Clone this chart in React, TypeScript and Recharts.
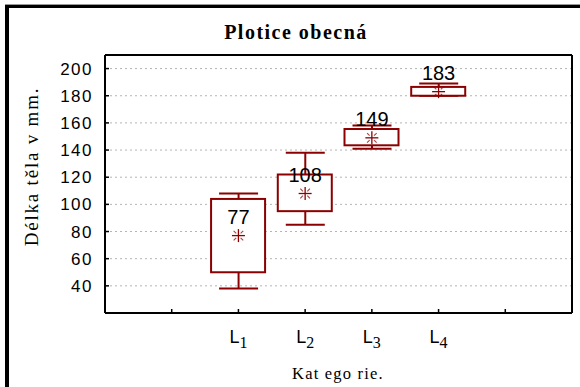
import React from 'react';
import { ComposedChart, XAxis, YAxis, CartesianGrid, Bar, Scatter } from 'recharts';

// Length categories (drawn as L with a subscript index)
const categoryPrefix = 'L';
const categoryIndex = ['1', '2', '3', '4'];

// Box-plot statistics of body length (mm) per category
const whiskerLow = [38, 85, 141, 180];
const boxLow = [50, 95, 143.5, 180];
const boxHigh = [104, 122, 155.5, 186.5];
const whiskerHigh = [108, 138, 158, 189];
const means = [77, 108, 149, 183];

// Axis ticks
const yTicks = [40, 60, 80, 100, 120, 140, 160, 180, 200];
const xSlots = [1, 2, 3, 4, 5, 6];

const rows = categoryIndex.map((sub, i) => ({
  slot: i + 2,
  sub,
  lo: whiskerLow[i],
  q1: boxLow[i],
  q3: boxHigh[i],
  hi: whiskerHigh[i],
  mean: means[i],
}));

const RED = '#8b0000';
const SANS = "'Liberation Sans', Arial, sans-serif";
const SERIF = "'Liberation Serif', 'Times New Roman', serif";

const CategoryTick = (props: any) => {
  const { x, y, payload } = props;
  const row = rows.find((r) => r.slot === payload.value);
  if (!row) return null;
  return (
    <text x={x} y={y} textAnchor="middle" fill="#000">
      <tspan fontFamily={SANS} fontSize={18}>{categoryPrefix}</tspan>
      <tspan fontFamily={SERIF} fontSize={16} dy={4.5}>{row.sub}</tspan>
    </text>
  );
};

const WhiskerShape = (props: any) => {
  const { x, y, width, height } = props;
  const top = Math.min(y, y + height);
  const bottom = Math.max(y, y + height);
  const cx = x + width / 2;
  return (
    <g stroke={RED} strokeWidth={2} fill="none">
      <line x1={cx} x2={cx} y1={top} y2={bottom} />
      <line x1={x} x2={x + width} y1={top} y2={top} />
      <line x1={x} x2={x + width} y1={bottom} y2={bottom} />
    </g>
  );
};

const BoxShape = (props: any) => {
  const { x, y, width, height } = props;
  const top = Math.min(y, y + height);
  const h = Math.abs(height);
  return <rect x={x} y={top} width={width} height={h} fill="#fff" stroke={RED} strokeWidth={2} />;
};

const MeanShape = (props: any) => {
  const { cx, cy, payload } = props;
  const r = 6.5;
  const d = 4.8;
  const d0 = 2.2;
  return (
    <g>
      <g stroke={RED} strokeWidth={1.3}>
        <line x1={cx - r} x2={cx + r} y1={cy} y2={cy} />
        <line x1={cx} x2={cx} y1={cy - r} y2={cy + r} />
      </g>
      <g stroke={RED} strokeWidth={1.1} strokeOpacity={0.75}>
        <line x1={cx - d} y1={cy - d} x2={cx - d0} y2={cy - d0} />
        <line x1={cx + d} y1={cy - d} x2={cx + d0} y2={cy - d0} />
        <line x1={cx - d} y1={cy + d} x2={cx - d0} y2={cy + d0} />
        <line x1={cx + d} y1={cy + d} x2={cx + d0} y2={cy + d0} />
      </g>
      <text x={cx} y={cy - 11.5} textAnchor="middle" fontFamily={SANS} fontSize={20} fill="#000">
        {payload.mean}
      </text>
    </g>
  );
};

const axisLine = { stroke: '#000', strokeWidth: 2 };
const tickLine = { stroke: '#000', strokeWidth: 1.5 };

export default function App() {
  return (
    <div style={{ position: 'absolute', left: 0, top: 0, width: 580, height: 387, background: '#fff' }}>
      <ComposedChart width={580} height={387} data={rows} margin={{ top: 45, right: 0, bottom: 0, left: 0 }}>
        <CartesianGrid vertical={false} stroke="#b4b4b4" strokeDasharray="2 3" />
        <XAxis
          dataKey="slot"
          type="number"
          domain={[0, 7]}
          ticks={xSlots}
          interval={0}
          height={74}
          tickSize={-4}
          tickMargin={34}
          tick={<CategoryTick />}
          axisLine={axisLine}
          tickLine={tickLine}
          allowDataOverflow
        />
        <XAxis
          xAxisId="top"
          orientation="top"
          type="number"
          domain={[0, 7]}
          ticks={xSlots}
          interval={0}
          height={10}
          tickSize={-4}
          tick={false}
          axisLine={axisLine}
          tickLine={tickLine}
          allowDataOverflow
        />
        <XAxis xAxisId="w" dataKey="slot" type="number" domain={[0, 7]} hide allowDataOverflow />
        <XAxis xAxisId="b" dataKey="slot" type="number" domain={[0, 7]} hide allowDataOverflow />
        <YAxis
          type="number"
          domain={[20, 210]}
          ticks={yTicks}
          interval={0}
          width={105}
          tickSize={-4}
          tickMargin={16}
          tick={{ fontSize: 17, fontFamily: SANS, fill: '#000', letterSpacing: 1.5 }}
          axisLine={axisLine}
          tickLine={tickLine}
          allowDataOverflow
        />
        <YAxis
          yAxisId="r"
          orientation="right"
          type="number"
          domain={[20, 210]}
          ticks={yTicks}
          interval={0}
          width={8}
          tickSize={-4}
          tick={false}
          axisLine={axisLine}
          tickLine={tickLine}
          allowDataOverflow
        />
        <Bar xAxisId="w" dataKey={(r: any) => [r.lo, r.hi]} barSize={39} shape={<WhiskerShape />} isAnimationActive={false} />
        <Bar xAxisId="b" dataKey={(r: any) => [r.q1, r.q3]} barSize={54} shape={<BoxShape />} isAnimationActive={false} />
        <Scatter data={rows} dataKey="mean" shape={<MeanShape />} isAnimationActive={false} />
      </ComposedChart>
      <svg
        width={580}
        height={387}
        style={{ position: 'absolute', left: 0, top: 0, pointerEvents: 'none' }}
      >
        <line x1={5} x2={580} y1={4.5} y2={4.5} stroke="#999" strokeWidth={1} />
        <rect x={5} y={5} width={575} height={3} fill="#000" />
        <rect x={5} y={5} width={4} height={382} fill="#000" />
        <text x={296} y={39} textAnchor="middle" fontFamily={SERIF} fontWeight="bold" fontSize={20} letterSpacing={1.5} fill="#000">
          Plotice obecná
        </text>
        <text
          x={0}
          y={0}
          transform="translate(38 166.5) rotate(-90)"
          textAnchor="middle"
          fontFamily={SERIF}
          fontSize={19}
          letterSpacing={1.8}
          fill="#000"
        >
          Délka těla v mm.
        </text>
        <text x={338} y={379} textAnchor="middle" fontFamily={SERIF} fontSize={16.5} letterSpacing={1.2} fill="#000">
          Kat ego rie.
        </text>
      </svg>
    </div>
  );
}
